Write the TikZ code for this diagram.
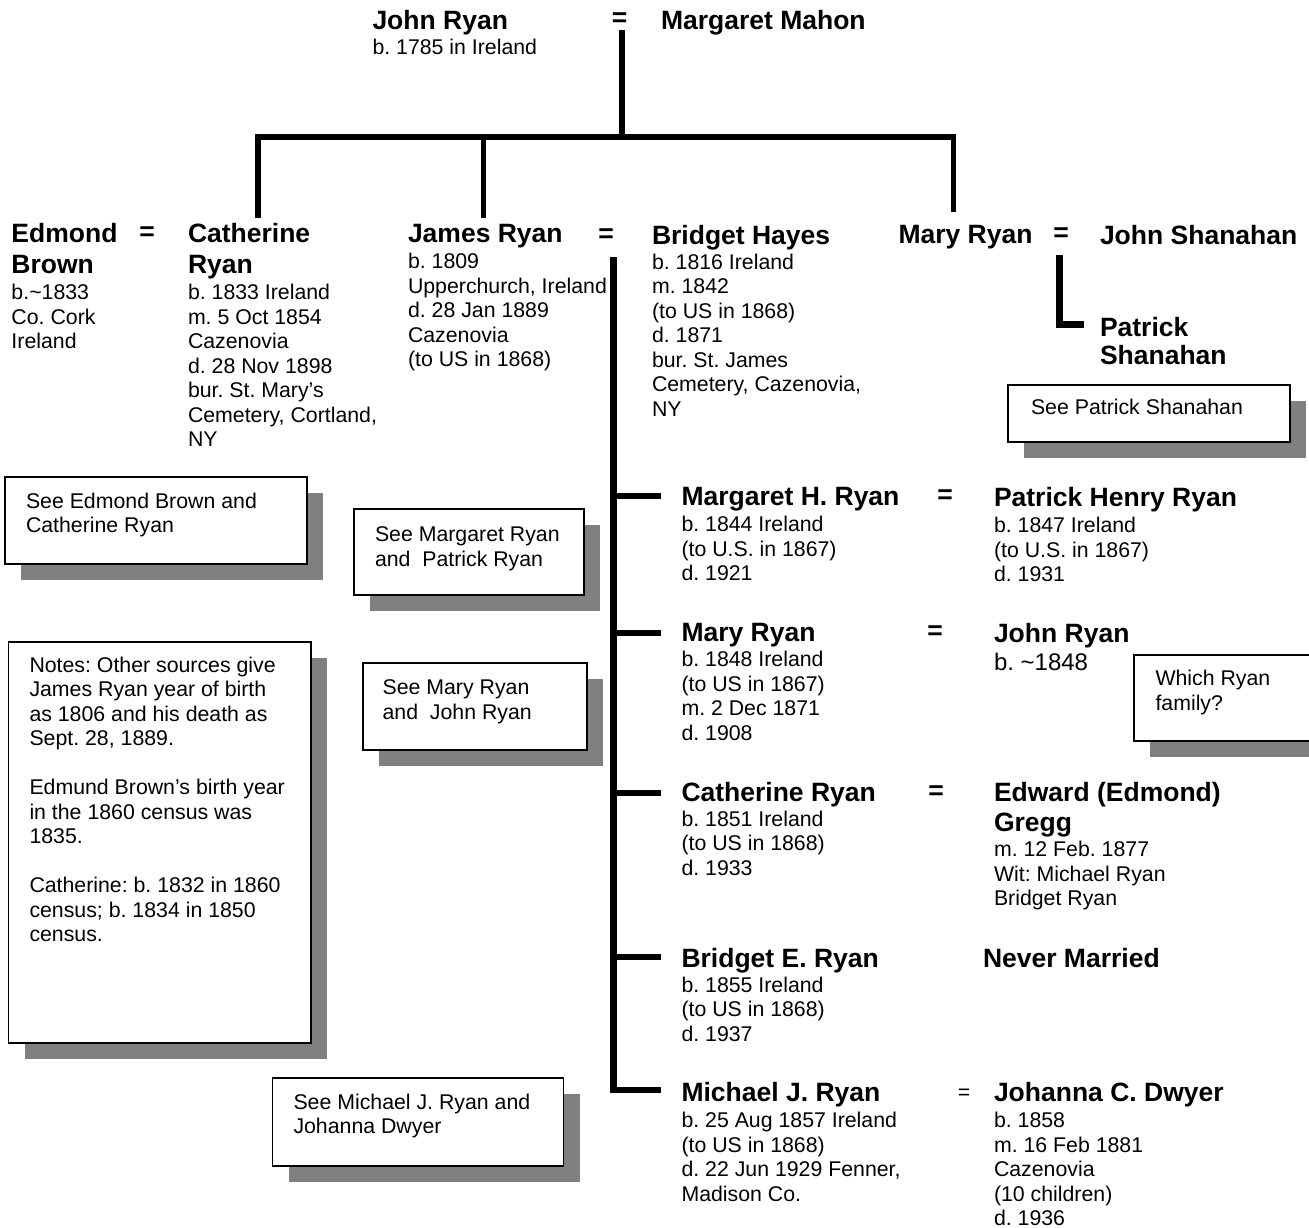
\documentclass[tikz,border=0pt]{standalone}
\usepackage{fontspec}
\setmainfont{Liberation Sans}
\usetikzlibrary{shadows}
\newcommand{\namefont}{\fontsize{26.5}{31}\selectfont\bfseries}
\newcommand{\infofont}{\fontsize{21.3}{24.5}\selectfont\frenchspacing}
\newcommand{\boxtxt}[5]{\parbox[c][#2][t]{#1}{\raggedright\leftskip=#3\relax\vspace*{#4}#5\par}}
\begin{document}
\begin{tikzpicture}[x=1pt,y=-1pt,
  every node/.style={inner sep=0pt,outer sep=0pt},
  person/.style={anchor=north west,align=left,font=\infofont},
  eqs/.style={font=\namefont},
  famline/.style={line width=5.5pt},
  trunkline/.style={line width=6.5pt},
  seebox/.style={draw,line width=1.6pt,fill=white,anchor=north west,font=\infofont,
    drop shadow={shadow xshift=16pt,shadow yshift=-16pt,opacity=1,fill=black!50}}]
\useasboundingbox (0,0) rectangle (1309,1228);

% ---- generation 1
\node[person] (jr) at (372.5,10.5) {{\namefont John Ryan}\\ b. 1785 in Ireland};
\node[eqs] (eq0) at (619.5,20) {=};
\node[person] (mm) at (661,10.5) {{\namefont Margaret Mahon}};

% ---- generation 2
\node[person] (eb) at (11.5,223.5) {{\namefont Edmond}\\[6.5pt]{\namefont Brown}\\[1.5pt]b.\textasciitilde1833\\Co. Cork\\Ireland};
\node[eqs] (eq1) at (147,233.5) {=};
\node[person] (cr) at (188,223.5) {{\namefont Catherine}\\[6.5pt]{\namefont Ryan}\\[1.5pt]b. 1833 Ireland\\m. 5 Oct 1854\\Cazenovia\\d. 28 Nov 1898\\bur. St. Mary’s\\Cemetery, Cortland,\\NY};
\node[person] (jar) at (408,224.5) {{\namefont James Ryan}\\[1.5pt]b. 1809\\Upperchurch, Ireland\\d. 28 Jan 1889\\Cazenovia\\(to US in 1868)};
\node[eqs] (eq2) at (606,235.5) {=};
\node[person] (bh) at (652,225.5) {{\namefont Bridget Hayes}\\[0pt]b. 1816 Ireland\\m. 1842\\(to US in 1868)\\d. 1871\\bur. St. James\\Cemetery, Cazenovia,\\NY};
\node[person] (mr) at (898.5,225) {{\namefont Mary Ryan}};
\node[eqs] (eq3) at (1061,235) {=};
\node[person] (js) at (1100,225) {{\namefont John Shanahan}};
\node[person] (ps) at (1100,317.5) {{\namefont Patrick}\\[3.5pt]{\namefont Shanahan}};

% ---- generation 3
\node[person] (mhr) at (681.5,487.5) {{\namefont Margaret H. Ryan}\\[1.5pt]b. 1844 Ireland\\(to U.S. in 1867)\\d. 1921};
\node[eqs] (eq4) at (945,497) {=};
\node[person] (phr) at (994,487.5) {{\namefont Patrick Henry Ryan}\\[1.5pt]b. 1847 Ireland\\(to U.S. in 1867)\\d. 1931};

\node[person] (mr2) at (681.5,623.5) {{\namefont Mary Ryan}\\[0.6pt]b. 1848 Ireland\\(to US in 1867)\\m. 2 Dec 1871\\d. 1908};
\node[eqs] (eq5) at (935,633) {=};
\node[person] (jr2) at (994,623.5) {{\namefont John Ryan}\\[3.5pt]{\fontsize{24}{27}\selectfont b. \textasciitilde1848}};

\node[person] (cr2) at (681.5,782.5) {{\namefont Catherine Ryan}\\b. 1851 Ireland\\(to US in 1868)\\d. 1933};
\node[eqs] (eq6) at (936,793) {=};
\node[person] (eeg) at (994,782.5) {{\namefont Edward (Edmond)}\\[5.5pt]{\namefont Gregg}\\[0.6pt]m. 12 Feb. 1877\\Wit: Michael Ryan\\Bridget Ryan};

\node[person] (ber) at (681.5,948.5) {{\namefont Bridget E. Ryan}\\b. 1855 Ireland\\(to US in 1868)\\d. 1937};
\node[person] (nm) at (983,948.5) {{\namefont Never Married}};

\node[person] (mjr) at (681.5,1082.5) {{\namefont Michael J. Ryan}\\[1.6pt]b. 25 Aug 1857 Ireland\\(to US in 1868)\\d. 22 Jun 1929 Fenner,\\Madison Co.};
\node[font=\infofont] (eq7) at (964,1094) {=};
\node[person] (jcd) at (994,1082.5) {{\namefont Johanna C. Dwyer}\\[1.6pt]b. 1858\\m. 16 Feb 1881\\Cazenovia\\(10 children)\\d. 1936};

% ---- reference boxes
\node[seebox] (b1) at (5,477) {\boxtxt{302pt}{87pt}{21pt}{16pt}{See Edmond Brown and\\Catherine Ryan}};
\node[seebox] (b2) at (354,509) {\boxtxt{230pt}{86pt}{21pt}{18pt}{See Margaret Ryan\\and\ \ Patrick Ryan}};
\node[seebox] (notes) at (8.5,642) {\boxtxt{302.5pt}{401pt}{21pt}{15pt}{Notes: Other sources give\\James Ryan year of birth\\as 1806 and his death as\\Sept. 28, 1889.\\[24.5pt]Edmund Brown’s birth year\\in the 1860 census was\\1835.\\[24.5pt]Catherine: b. 1832 in 1860\\census; b. 1834 in 1850\\census.}};
\node[seebox] (b3) at (363,663) {\boxtxt{224pt}{87pt}{19.6pt}{17pt}{See Mary Ryan\\and\ \ John Ryan}};
\node[seebox] (b4) at (272.5,1078) {\boxtxt{291pt}{88pt}{21pt}{16pt}{See Michael J. Ryan and\\Johanna Dwyer}};
\node[seebox] (b5) at (1134,655) {\boxtxt{200pt}{86pt}{21.5pt}{15.5pt}{Which Ryan\\family?}};
\node[seebox] (b6) at (1008,385) {\boxtxt{282pt}{57pt}{23pt}{14.5pt}{See Patrick Shanahan}};

% ---- connectors
\coordinate (t0) at (622,30);
\coordinate (t1) at (622,137);
\coordinate (bl) at (257.8,137);
\coordinate (bj) at (483.5,137);
\coordinate (br) at (953.6,137);
\coordinate (dl) at (257.8,218);
\coordinate (dj) at (483.5,218);
\coordinate (dr) at (953.6,212);
\draw[famline] (t0) -- (t1);
\draw[famline] (dl) -- (bl) -- (br) -- (dr);
\draw[famline] (bj) -- (dj);

\coordinate (k0) at (613.5,257);
\coordinate (s1) at (661,496);
\coordinate (s2) at (661,633);
\coordinate (s3) at (661,793);
\coordinate (s4) at (661,957);
\coordinate (s5) at (661,1090);
\draw[trunkline] (k0) -- (k0 |- s5) -- (s5);
\draw[trunkline] (k0 |- s1) -- (s1);
\draw[trunkline] (k0 |- s2) -- (s2);
\draw[trunkline] (k0 |- s3) -- (s3);
\draw[trunkline] (k0 |- s4) -- (s4);

\coordinate (l0) at (1059.5,255);
\coordinate (l1) at (1084,324);
\draw[line width=7pt] (l0) -- (l0 |- l1) -- (l1);
\end{tikzpicture}
\end{document}
